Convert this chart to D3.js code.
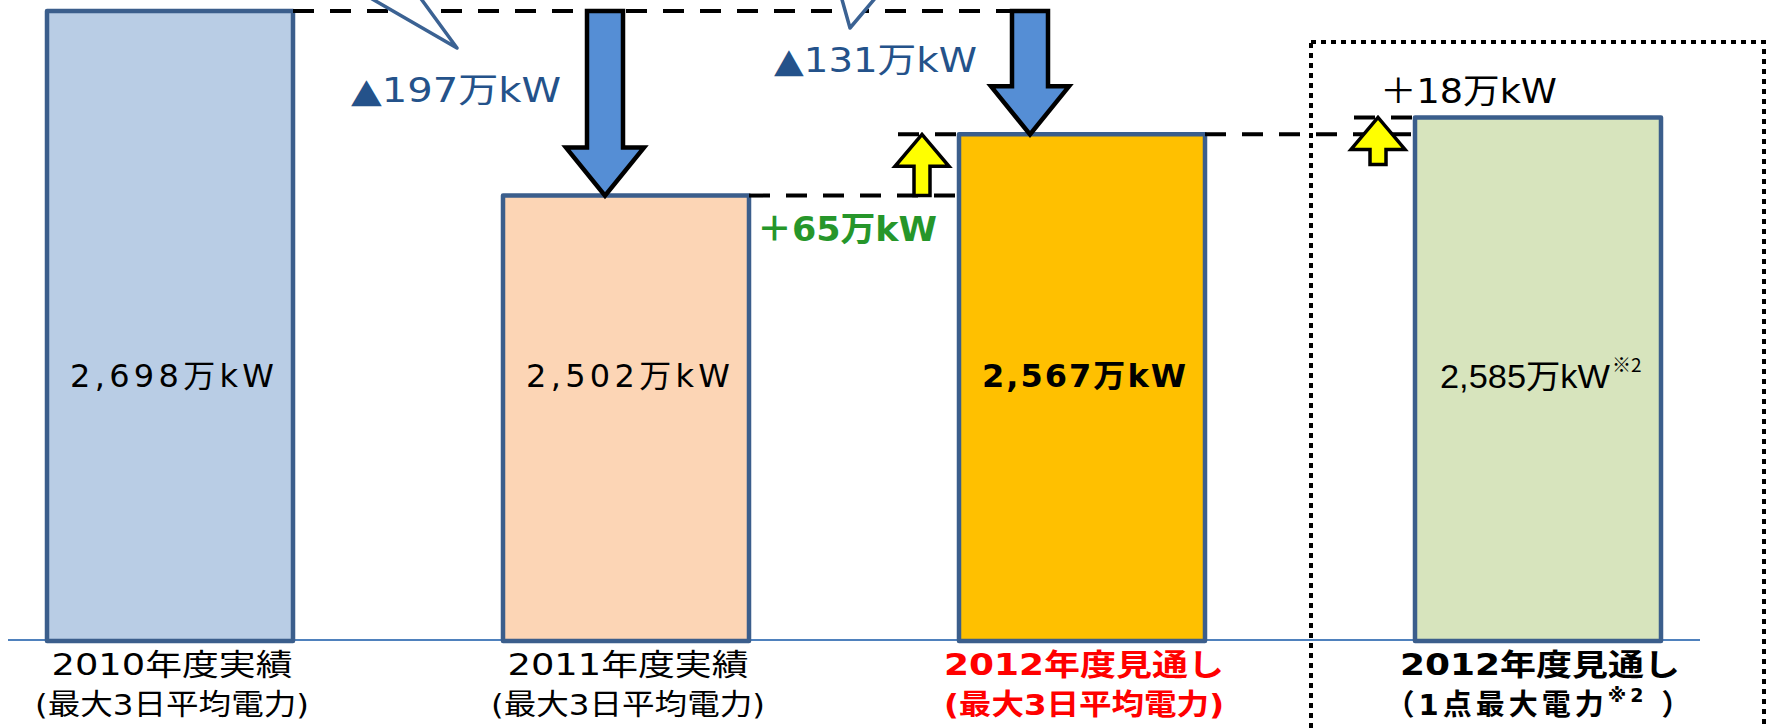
<!DOCTYPE html>
<html>
<head>
<meta charset="utf-8">
<script src="https://cdn.jsdelivr.net/npm/d3@7"></script>
<style>
  html, body { margin: 0; padding: 0; background: #fff; overflow: hidden; }
  svg { display: block; font-family: "DejaVu Sans", "Noto Sans CJK JP", sans-serif; }
</style>
</head>
<body>
<div id="container"></div>
<script>
/* DATA */
const categories = ["fy2010", "fy2011", "fy2012", "fy2012peak"];
const values = [2698, 2502, 2567, 2585];
const valueLabels = ["2,698万kW", "2,502万kW", "2,567万kW", "2,585万kW"];
const labelLine1 = ["2010年度実績", "2011年度実績", "2012年度見通し", "2012年度見通し"];
const labelLine2 = ["(最大3日平均電力)", "(最大3日平均電力)", "(最大3日平均電力)", "（1点最大電力"];

// changes between bars
const changeFrom = [0, 0, 1, 2];
const changeTo = [1, 2, 2, 3];
const changeLabels = ["▲197万kW", "▲131万kW", "＋65万kW", "＋18万kW"];

/* CONSTANTS AND STYLES */
const width = 1773, height = 728;
const baselineY = 640;
const barW = 246;
const barFill = ["#B9CDE5", "#FCD5B5", "#FFC000", "#D7E4BD"];
const barStroke = "#3B5E8C";
const labelColor = ["#000", "#000", "#FF0000", "#000"];
const labelWeight = [400, 400, 700, 700];
const valueWeight = [400, 400, 700, 400];

// per-change layout (arrow offset and label placement)
const arrowDx = [-21, -52, 0, 0];
const labelPos = [
  { anchor: "end", dx: -44, dy: 79, ref: "from", len: 210, color: "#24528A" },
  { anchor: "end", dx: -53, dy: 49, ref: "from", len: 203, color: "#24528A" },
  { anchor: "end", dx: 15, dy: 33, ref: "from", len: 180, color: "#26962A" },
  { anchor: "start", dx: 2, dy: -26, ref: "tip", len: 177, color: "#000" }
];

/* SCALES */
const xScale = d3.scalePoint()
  .domain(categories)
  .range([170, 1538]);

const yScale = d3.scaleLinear()
  .domain([2030, 2698])
  .range([baselineY, 11]);

const barLeft = i => xScale(categories[i]) - barW / 2;
const barRight = i => xScale(categories[i]) + barW / 2;

/* SVG */
const svg = d3.select("#container")
  .append("svg")
  .attr("width", width)
  .attr("height", height);

// baseline
svg.append("line")
  .attr("x1", 8).attr("x2", 1700)
  .attr("y1", baselineY).attr("y2", baselineY)
  .attr("stroke", "#4F81BD")
  .attr("stroke-width", 2);

// dotted frame round the peak forecast
svg.append("rect")
  .attr("x", barLeft(3) - 104)
  .attr("y", 42)
  .attr("width", 453)
  .attr("height", 760)
  .attr("fill", "none")
  .attr("stroke", "#000")
  .attr("stroke-width", 4)
  .attr("stroke-dasharray", "5,5");

// bars
svg.selectAll("rect.bar")
  .data(values)
  .join("rect")
  .attr("class", "bar")
  .attr("x", (d, i) => barLeft(i))
  .attr("y", d => yScale(d))
  .attr("width", barW)
  .attr("height", d => baselineY - yScale(d) + 1)
  .attr("fill", (d, i) => barFill[i])
  .attr("stroke", barStroke)
  .attr("stroke-width", 4.5)
  .attr("stroke-linejoin", "round");

// work out arrows
const changes = changeFrom.map((f, i) => {
  const t = changeTo[i];
  const down = values[t] < values[f];
  const cx = down ? xScale(categories[t]) + arrowDx[i] : barLeft(t) - 37;
  const tip = yScale(values[t]);
  const base = down ? yScale(values[f]) : Math.max(yScale(values[f]), tip + 47);
  return { f, t, down, cx, tip, base, label: changeLabels[i], pos: labelPos[i] };
});

// dashed level lines
const dashed = (x1, x2, y) => svg.append("line")
  .attr("x1", x1).attr("x2", x2)
  .attr("y1", y).attr("y2", y)
  .attr("stroke", "#000")
  .attr("stroke-width", 4)
  .attr("stroke-dasharray", "21,16");

const lastDown = d3.max(changes.filter(c => c.down), c => c.cx + 18);
dashed(barRight(0), lastDown, yScale(values[0]));
for (let i = 1; i < values.length - 1; i++) {
  dashed(barRight(i), barLeft(i + 1), yScale(values[i]));
}
changes.filter(c => !c.down).forEach(c => {
  dashed(c.cx - 24, barLeft(c.t), c.tip);
});

// callout pointers from bubbles above the view
const pointers = [
  [[367, -4], [457, 48], [419, -4]],
  [[841, -4], [850, 28], [877, -4]]
];
svg.selectAll("path.pointer")
  .data(pointers)
  .join("path")
  .attr("class", "pointer")
  .attr("d", d => d3.line()(d))
  .attr("fill", "#fff")
  .attr("stroke", "#3B6293")
  .attr("stroke-width", 3.5)
  .attr("stroke-linejoin", "round");

// arrows
const downArrow = c => {
  const s = 18, h = 39, hl = 48, x = c.cx, top = c.base, tip = c.tip;
  return d3.line()([[x - s, top], [x + s, top], [x + s, tip - hl], [x + h, tip - hl],
    [x, tip], [x - h, tip - hl], [x - s, tip - hl]]) + "Z";
};
const upArrow = c => {
  const s = 8, h = 27, hl = 32, x = c.cx, bot = c.base, tip = c.tip;
  return d3.line()([[x - s, bot], [x + s, bot], [x + s, tip + hl], [x + h, tip + hl],
    [x, tip], [x - h, tip + hl], [x - s, tip + hl]]) + "Z";
};

svg.selectAll("path.arrow")
  .data(changes)
  .join("path")
  .attr("class", "arrow")
  .attr("d", c => c.down ? downArrow(c) : upArrow(c))
  .attr("fill", c => c.down ? "#558ED5" : "#FFFF00")
  .attr("stroke", "#000")
  .attr("stroke-width", c => c.down ? 4.5 : 3.5)
  .attr("stroke-linejoin", "miter");

// change labels
svg.selectAll("text.change")
  .data(changes)
  .join("text")
  .attr("class", "change")
  .attr("x", c => c.cx + c.pos.dx)
  .attr("y", c => (c.pos.ref === "tip" ? c.tip : yScale(values[c.f])) + c.pos.dy)
  .attr("text-anchor", c => c.pos.anchor)
  .attr("dominant-baseline", "central")
  .attr("textLength", c => c.pos.len)
  .attr("lengthAdjust", "spacingAndGlyphs")
  .style("font-size", "34px")
  .style("font-weight", (c, i) => i === 2 ? 700 : 400)
  .attr("fill", c => c.pos.color)
  .text(c => c.label);

// value labels inside bars
const valueY = 376;
valueLabels.forEach((t, i) => {
  const cx = xScale(categories[i]);
  if (i < 3) {
    svg.append("text")
      .attr("x", cx + 2)
      .attr("y", valueY)
      .attr("text-anchor", "middle")
      .attr("dominant-baseline", "central")
      .attr("textLength", 204)
      .attr("lengthAdjust", "spacing")
      .style("font-size", "32px")
      .style("font-weight", valueWeight[i])
      .text(t);
  } else {
    svg.append("text")
      .attr("x", cx + 72)
      .attr("y", valueY)
      .attr("text-anchor", "end")
      .attr("dominant-baseline", "central")
      .attr("textLength", 170)
      .attr("lengthAdjust", "spacingAndGlyphs")
      .style("font-size", "33px")
      .style("font-family", "'Liberation Sans Narrow', 'Liberation Sans', 'Noto Sans CJK JP'")
      .text(t);
    svg.append("text")
      .attr("x", cx + 74)
      .attr("y", valueY - 13)
      .attr("dominant-baseline", "central")
      .style("font-size", "19px")
      .style("font-family", "'Noto Sans CJK JP'")
      .text("※2");
  }
});

// category labels
const line1Len = [241, 241, 280, 280];
const line2Len = [274, 274, 280, null];
categories.forEach((c, i) => {
  const cx = xScale(c);
  svg.append("text")
    .attr("x", cx + 2)
    .attr("y", 664)
    .attr("text-anchor", "middle")
    .attr("dominant-baseline", "central")
    .attr("textLength", line1Len[i])
    .attr("lengthAdjust", "spacingAndGlyphs")
    .style("font-size", "30px")
    .style("font-weight", labelWeight[i])
    .attr("fill", labelColor[i])
    .text(labelLine1[i]);

  const t2 = svg.append("text")
    .attr("x", cx + 2)
    .attr("y", 705)
    .attr("text-anchor", "middle")
    .attr("dominant-baseline", "central")
    .style("font-size", "29px")
    .style("font-weight", labelWeight[i])
    .attr("fill", labelColor[i]);
  if (line2Len[i]) {
    t2.attr("textLength", line2Len[i])
      .attr("lengthAdjust", "spacingAndGlyphs")
      .text(labelLine2[i]);
  } else {
    t2.style("letter-spacing", "4px");
    t2.append("tspan").text(labelLine2[i]);
    t2.append("tspan").attr("dy", -10).style("font-size", "19px").text("※2");
    t2.append("tspan").attr("dy", 10).text(" ）");
  }
});
</script>
</body>
</html>
